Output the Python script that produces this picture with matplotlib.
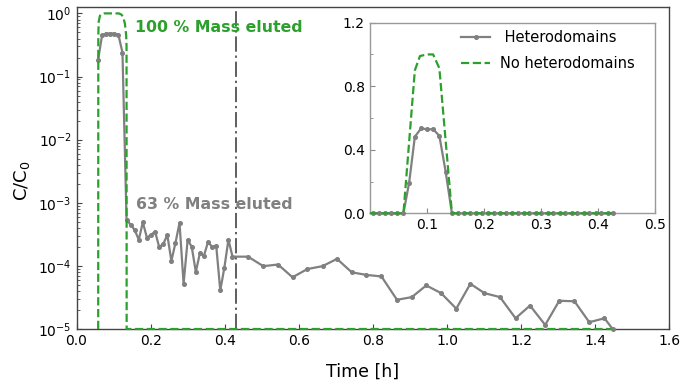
import matplotlib
matplotlib.use("Agg")
import matplotlib.pyplot as plt
from matplotlib.ticker import FixedLocator, FormatStrFormatter

# ---- breakthrough curve with heterodomains (main, log scale) ----
hetero_time = [
    0.058, 0.069, 0.080, 0.091, 0.102, 0.113, 0.124,
    0.135, 0.146, 0.157, 0.168, 0.179, 0.190, 0.201, 0.212, 0.223,
    0.234, 0.245, 0.256, 0.267, 0.278, 0.289, 0.300, 0.311, 0.322,
    0.333, 0.344, 0.355, 0.366, 0.377, 0.388, 0.399, 0.410, 0.421,
    0.463, 0.504, 0.544, 0.583, 0.623, 0.664, 0.703, 0.743, 0.782,
    0.823, 0.865, 0.905, 0.944, 0.984, 1.025, 1.063, 1.101, 1.143,
    1.185, 1.224, 1.265, 1.303, 1.344, 1.384, 1.425, 1.447,
]
hetero_conc = [
    0.18, 0.45, 0.48, 0.48, 0.48, 0.46, 0.24,
    5.4e-4, 4.5e-4, 3.7e-4, 2.6e-4, 4.9e-4, 2.8e-4, 3.1e-4, 3.5e-4, 2.0e-4,
    2.2e-4, 3.1e-4, 1.2e-4, 2.3e-4, 4.8e-4, 5.2e-5, 2.6e-4, 2.0e-4, 8.0e-5,
    1.6e-4, 1.45e-4, 2.4e-4, 2.0e-4, 2.1e-4, 4.1e-5, 9.3e-5, 2.6e-4, 1.4e-4,
    1.4e-4, 9.9e-5, 1.05e-4, 6.6e-5, 8.9e-5, 9.9e-5, 1.29e-4, 7.9e-5, 7.2e-5,
    6.8e-5, 2.9e-5, 3.2e-5, 4.9e-5, 3.7e-5, 2.1e-5, 5.2e-5, 3.7e-5, 3.2e-5,
    1.48e-5, 2.35e-5, 1.16e-5, 2.8e-5, 2.75e-5, 1.28e-5, 1.48e-5, 1.0e-5,
]

# ---- breakthrough curve without heterodomains (main, log scale) ----
nohetero_time = [0.0585, 0.0588, 0.0600, 0.0633, 0.0680, 0.0740, 0.0857,
                 0.1000, 0.1140, 0.1210, 0.1260, 0.1307, 0.1340, 0.1350,
                 0.1353, 1.443]
nohetero_conc = [1e-5, 0.45, 0.75, 0.92, 0.98, 1.0, 1.0,
                 1.0, 1.0, 0.96, 0.88, 0.68, 0.45, 0.3,
                 1e-5, 1e-5]

# ---- inset (linear scale, early times) ----
inset_hetero_time = [
    0.006, 0.017, 0.027, 0.038, 0.048, 0.059, 0.069, 0.079, 0.090, 0.100,
    0.111, 0.122, 0.133, 0.144, 0.154, 0.165, 0.175, 0.186, 0.196, 0.207,
    0.217, 0.228, 0.238, 0.249, 0.259, 0.270, 0.280, 0.291, 0.301, 0.312,
    0.322, 0.333, 0.343, 0.354, 0.364, 0.375, 0.385, 0.396, 0.406, 0.417,
    0.427,
]
inset_hetero_conc = [
    0.0, 0.0, 0.0, 0.0, 0.0, 0.0, 0.193, 0.482, 0.535, 0.529,
    0.529, 0.488, 0.262, 0.0, 0.0, 0.0, 0.0, 0.0, 0.0, 0.0,
    0.0, 0.0, 0.0, 0.0, 0.0, 0.0, 0.0, 0.0, 0.0, 0.0,
    0.0, 0.0, 0.0, 0.0, 0.0, 0.0, 0.0, 0.0, 0.0, 0.0,
    0.0,
]
inset_nohetero_time = [0.0, 0.059, 0.079, 0.088, 0.100, 0.111, 0.122, 0.144, 0.427]
inset_nohetero_conc = [0.0, 0.0, 0.90, 0.99, 1.0, 1.0, 0.913, 0.0, 0.0]

mass_63_time = 0.430

x_ticks = [0.0, 0.2, 0.4, 0.6, 0.8, 1.0, 1.2, 1.4, 1.6]
inset_x_ticks = [0.1, 0.2, 0.3, 0.4, 0.5]
inset_y_ticks = [0.0, 0.4, 0.8, 1.2]
inset_y_minor = [0.2, 0.6, 1.0]

GRAY = "#808080"
GREEN = "#2ca02c"

plt.rcParams["font.family"] = ["DejaVu Sans"]

fig = plt.figure(figsize=(6.82, 3.83), dpi=100)
ax = fig.add_axes([0.1122, 0.141, 0.8692, 0.840])

ax.plot(hetero_time, hetero_conc, color=GRAY, lw=1.6, marker="o", ms=2.6,
        clip_on=False, zorder=3)
ax.plot(nohetero_time, nohetero_conc, color=GREEN, lw=1.6, ls="--",
        clip_on=False, zorder=4)
ax.axvline(mass_63_time, color="#333333", lw=1.1, ls=(0, (10, 2.5, 1.5, 2.5)),
           zorder=2)

ax.set_yscale("log")
ax.set_xlim(0.0, 1.6)
ax.set_ylim(1e-5, 1.25)
ax.set_xticks(x_ticks)
ax.xaxis.set_major_formatter(FormatStrFormatter("%.1f"))
ax.tick_params(axis="both", which="both", direction="in", labelsize=10,
               color="#444444")
ax.tick_params(axis="x", which="minor", bottom=False)
for s in ax.spines.values():
    s.set_color("#444444")
    s.set_linewidth(1.0)

ax.set_xlabel("Time [h]", fontsize=12.5)
ax.set_ylabel("C/C$_0$", fontsize=13)
ax.xaxis.set_label_coords(0.482, -0.106)
ax.yaxis.set_label_coords(-0.075, 0.46)

ax.text(0.158, 0.6, "100 % Mass eluted", color=GREEN, fontsize=11.3,
        fontweight="bold", va="center", ha="left")
ax.text(0.160, 9.3e-4, "63 % Mass eluted", color=GRAY, fontsize=11.3,
        fontweight="bold", va="center", ha="left")

# ---- inset ----
axi = fig.add_axes([0.5422, 0.4431, 0.4182, 0.4977])
h1, = axi.plot(inset_hetero_time, inset_hetero_conc, color=GRAY, lw=1.6,
               marker="o", ms=2.6, clip_on=False, zorder=3,
               label=" Heterodomains")
h2, = axi.plot(inset_nohetero_time, inset_nohetero_conc, color=GREEN, lw=1.6,
               ls="--", clip_on=False, zorder=4, label="No heterodomains")
axi.set_xlim(0.0, 0.5)
axi.set_ylim(0.0, 1.2)
axi.set_xticks(inset_x_ticks)
axi.set_yticks(inset_y_ticks)
axi.yaxis.set_minor_locator(FixedLocator(inset_y_minor))
axi.xaxis.set_major_formatter(FormatStrFormatter("%.1f"))
axi.yaxis.set_major_formatter(FormatStrFormatter("%.1f"))
axi.tick_params(axis="both", which="both", direction="in", labelsize=10,
                color="#888888")
for s in axi.spines.values():
    s.set_color("#999999")
    s.set_linewidth(1.0)

axi.legend(handles=[h1, h2], loc="upper right", frameon=False, fontsize=10.5,
           numpoints=1, handlelength=1.95, handletextpad=0.7,
           labelspacing=0.75, bbox_to_anchor=(0.975, 1.03))

fig.savefig("out.png", dpi=100)
